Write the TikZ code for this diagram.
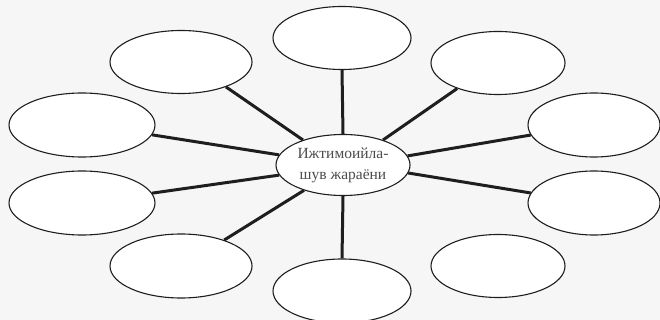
\documentclass[tikz,border=0pt]{standalone}
\usepackage{fontspec}
\setmainfont{Liberation Serif}
\usetikzlibrary{shapes.geometric}
\definecolor{bgpaper}{RGB}{246,246,246}
\definecolor{inkline}{RGB}{30,30,30}
\tikzset{
  bubble/.style={ellipse, draw=inkline, line width=1.1pt, fill=white, inner sep=0pt,
    minimum width=138pt, minimum height=63pt},
  hub/.style={ellipse, draw=inkline, line width=1.1pt, fill=white, inner sep=0pt,
    minimum width=134pt, minimum height=61pt, align=center,
    font=\fontsize{15.5}{21}\selectfont, text=black!70},
  spoke/.style={draw=inkline, line width=3pt}
}
\begin{document}
\begin{tikzpicture}[x=1pt,y=-1pt]
\fill[bgpaper] (0,0) rectangle (660,320);
\useasboundingbox (0,0) rectangle (660,320);
% outer bubbles
\node[bubble] (t)  at (342,38) {};
\node[bubble, minimum width=142pt] (tl) at (181,62) {};
\node[bubble, minimum width=146pt, minimum height=64pt] (lu) at (82,125) {};
\node[bubble, minimum width=146pt, minimum height=64pt] (ll) at (82,203) {};
\node[bubble, minimum width=142pt, minimum height=64pt] (bl) at (181,266) {};
\node[bubble, minimum height=64pt] (b)  at (342,291) {};
\node[bubble, minimum width=134pt] (tr) at (498,63) {};
\node[bubble, minimum width=132pt, minimum height=64pt] (ru) at (594,125) {};
\node[bubble, minimum width=132pt, minimum height=64pt] (rl) at (594,203) {};
\node[bubble, minimum width=134pt] (br) at (498,266) {};
% hub
\node[hub] (c) at (343,165) {Ижтимоийла-\\шув жараёни};
% spokes
\draw[spoke] (c.90)  -- (t.270);
\draw[spoke] (c.148) -- (tl.-29);
\draw[spoke] (c.171) -- (lu.-8);
\draw[spoke] (c.189) -- (ll.8);
\draw[spoke] (c.213) -- (bl.31);
\draw[spoke] (c.270) -- (b.90);
\draw[spoke] (c.32)  -- (tr.212);
\draw[spoke] (c.8)   -- (ru.189);
\draw[spoke] (c.-7)  -- (rl.171);
\end{tikzpicture}
\end{document}
